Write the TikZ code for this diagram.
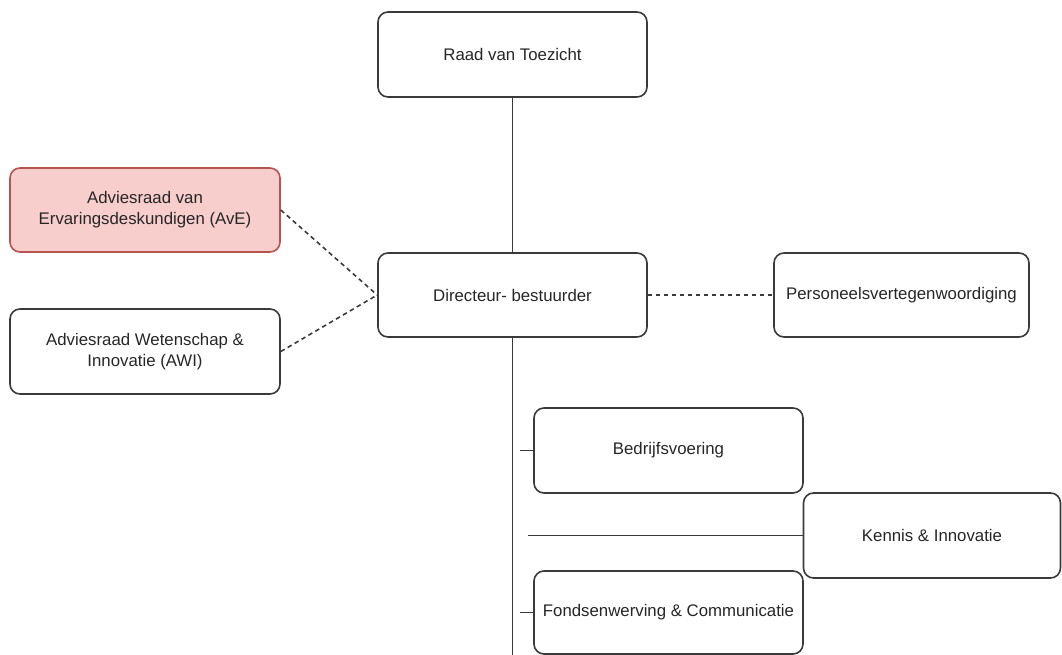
\documentclass[tikz,border=0pt]{standalone}
\usepackage{fontspec}
\setmainfont{Liberation Sans}
\begin{document}
\begin{tikzpicture}[x=1pt,y=-1pt,
  box/.style={draw=linegray,line width=1.6pt,rounded corners=10pt,align=center,
    inner sep=0pt,font=\fontsize{16.8}{21}\selectfont,text=black!85},
  conn/.style={draw=linegray,line width=1.6pt},
  dconn/.style={draw=linegray,line width=1.6pt,dash pattern=on 4.5pt off 3.5pt}]
\definecolor{linegray}{HTML}{3A3A3A}
\definecolor{avefill}{HTML}{F8CECC}
\definecolor{avedraw}{HTML}{B85450}
\useasboundingbox (0,0) rectangle (1062,655);
\node[box,minimum width=269pt,minimum height=85pt] (raad) at (512.5,54.5) {Raad van Toezicht};
\node[box,minimum width=270pt,minimum height=84pt,fill=avefill,draw=avedraw] (ave) at (145,210) {Adviesraad van\\Ervaringsdeskundigen (AvE)};
\node[box,minimum width=270pt,minimum height=85pt] (awi) at (145,351.5) {Adviesraad Wetenschap \&\\Innovatie (AWI)};
\node[box,minimum width=269pt,minimum height=84pt] (dir) at (512.5,295) {Directeur- bestuurder};
\node[box,minimum width=255pt,minimum height=84pt] (pers) at (901.5,295) {Personeelsvertegenwoordiging};
\node[box,minimum width=269pt,minimum height=85pt] (bedr) at (668.5,450.5) {Bedrijfsvoering};
\node[box,minimum width=257pt,minimum height=85pt] (ken) at (932,535.5) {Kennis \& Innovatie};
\node[box,minimum width=269pt,minimum height=83pt] (fonds) at (668.5,612.5) {Fondsenwerving \& Communicatie};
\coordinate (bot) at (512.5,655);
\coordinate (t1) at (520,450.5);
\coordinate (t2) at (528,535.5);
\coordinate (t3) at (520,612.5);
\draw[conn] (raad.south) -- (dir.north);
\draw[conn] (dir.south) -- (bot);
\draw[conn] (t1) -- (bedr.west);
\draw[conn] (t2) -- (ken.west);
\draw[conn] (t3) -- (fonds.west);
\draw[dconn] (ave.east) -- (dir.west);
\draw[dconn] (awi.east) -- (dir.west);
\draw[dconn] (dir.east) -- (pers.west);
\end{tikzpicture}
\end{document}
